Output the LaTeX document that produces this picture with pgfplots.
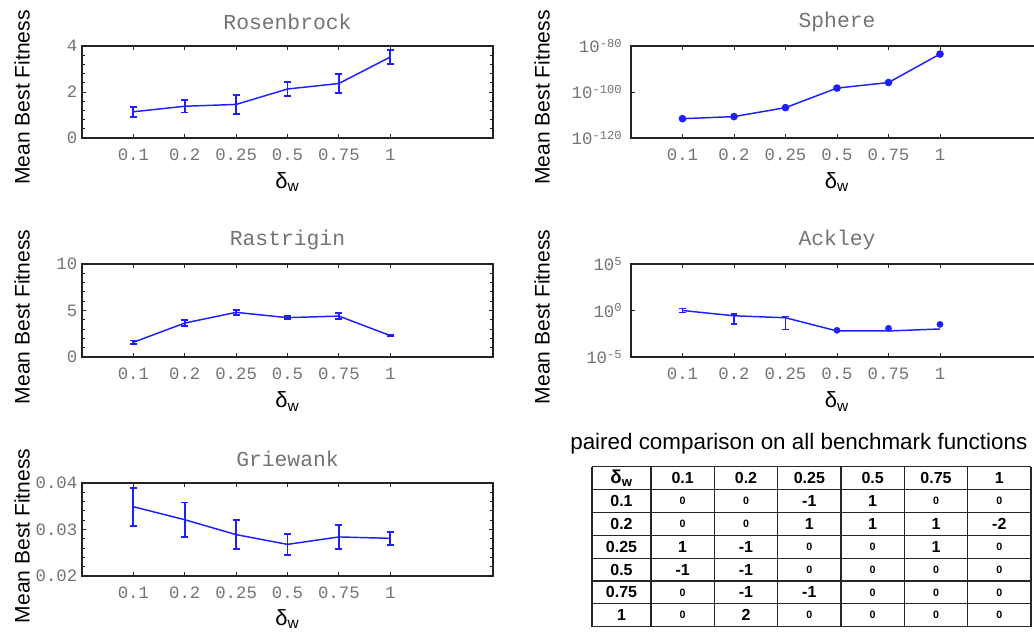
\documentclass[border=0pt]{standalone}
\usepackage{pgfplots}
\usepackage{pgfplotstable}
\pgfplotsset{compat=1.18}
\usepackage{fontspec}
\setmainfont{Liberation Sans}
\setmonofont{Liberation Mono}
\definecolor{myblue}{RGB}{30,30,255}
\definecolor{tickgray}{RGB}{115,115,115}
\definecolor{axgray}{RGB}{35,35,35}

\pgfplotstableread{
x y e
1 1.14 0.22
2 1.38 0.27
3 1.46 0.41
4 2.13 0.30
5 2.37 0.41
6 3.52 0.29
}\rosen
\pgfplotstableread{
x y e
1 1.58 0.20
2 3.65 0.35
3 4.80 0.30
4 4.23 0.18
5 4.40 0.30
6 2.30 0.08
}\rastr
\pgfplotstableread{
x y e
1 0.0349 0.0041
2 0.0321 0.0037
3 0.0289 0.0031
4 0.0268 0.0022
5 0.0284 0.0026
6 0.0281 0.0014
}\griew
\pgfplotstableread{
x y
1 2.5e-112
2 2e-111
3 1.6e-107
4 5e-99
5 1.3e-96
6 3.2e-84
}\sphere
\pgfplotstableread{
x y ep em
1 1.0 0.63 0.39
2 0.27 0.14 0.232
3 0.166 0.064 0.157
}\ackA
\pgfplotstableread{
x y
3 0.166
4 0.0063
5 0.0063
6 0.0103
}\ackB
\pgfplotstableread{
x y
4 0.0074
5 0.0122
6 0.032
}\ackC

\pgfplotsset{
  panel/.style={
    scale only axis,
    xmin=0, xmax=8,
    xtick={1,2,3,4,5,6},
    xticklabels={0.1,0.2,0.25,0.5,0.75,1},
    minor x tick num=0,
    tick align=inside, tick pos=both,
    major tick length=3pt, minor tick length=2pt,
    axis line style={axgray, line width=0.8pt},
    every tick/.style={axgray, line width=0.7pt},
    tick label style={font=\fontsize{13}{13}\selectfont\ttfamily, text=tickgray},
    xticklabel style={yshift=-4.5pt},
    /pgf/number format/assume math mode=true,
    scaled y ticks=false,
    title style={font=\fontsize{16}{16}\selectfont\ttfamily, text=tickgray, at={(axis description cs:0.5,1.17)}, anchor=center},
    xlabel={δ\textsubscript{w}},
    xlabel style={font=\fontsize{16.5}{16.5}\selectfont, at={(axis description cs:0.5,-0.48)}, anchor=center},
    ylabel={Mean Best Fitness},
    ylabel style={font=\fontsize{15.8}{15.8}\selectfont},
  },
  ebar/.style={myblue, line width=1.1pt, mark=none,
    error bars/.cd, y dir=both, y explicit,
    error bar style={line width=1.4pt, myblue},
    error mark options={myblue, line width=1.4pt, mark size=2.6pt, rotate=90}},
}

\begin{document}
\begin{tikzpicture}
\path[use as bounding box] (0,0) rectangle (775.5pt,474pt);

% Rosenbrock
\begin{axis}[panel, at={(61.5pt,370.5pt)}, anchor=south west,
  width=308.25pt, height=69pt, title={Rosenbrock},
  ymin=0, ymax=4, ytick={0,2,4}, minor y tick num=4,
  ylabel style={at={(axis description cs:-0.146,0.44)}, anchor=center}]
\addplot[ebar] table[x=x, y=y, y error=e] {\rosen};
\end{axis}

% Sphere
\begin{axis}[panel, at={(473.25pt,370.5pt)}, anchor=south west,
  width=309pt, height=69pt, title={Sphere},
  ymode=log, log basis y=10, ymin=1e-120, ymax=1e-80,
  ytick={1e-120,1e-100,1e-80},
  yticklabels={10\textsuperscript{-120},10\textsuperscript{-100},10\textsuperscript{-80}},
  minor ytick={}, 
  yticklabel style={xshift=-3pt},
  ylabel style={at={(axis description cs:-0.216,0.44)}, anchor=center}]
\addplot[myblue, line width=1.1pt, mark=*, mark size=2.3pt] table[x=x, y=y] {\sphere};
\end{axis}

% Rastrigin
\begin{axis}[panel, at={(61.5pt,206.25pt)}, anchor=south west,
  width=308.25pt, height=69.75pt, title={Rastrigin},
  ymin=0, ymax=10, ytick={0,5,10}, minor y tick num=4,
  ylabel style={at={(axis description cs:-0.146,0.43)}, anchor=center}]
\addplot[ebar] table[x=x, y=y, y error=e] {\rastr};
\end{axis}

% Ackley
\begin{axis}[panel, at={(473.25pt,206.25pt)}, anchor=south west,
  width=309pt, height=69.75pt, title={Ackley},
  ymode=log, log basis y=10, ymin=1e-5, ymax=1e5,
  ytick={1e-5,1,1e5},
  yticklabels={10\textsuperscript{-5},10\textsuperscript{0},10\textsuperscript{5}},
  minor ytick={},
  yticklabel style={xshift=-3pt},
  ylabel style={at={(axis description cs:-0.216,0.43)}, anchor=center}]
\addplot[ebar] table[x=x, y=y, y error plus=ep, y error minus=em] {\ackA};
\addplot[myblue, line width=1.1pt, mark=none] table[x=x, y=y] {\ackB};
\addplot[myblue, only marks, mark=*, mark size=2.3pt] table[x=x, y=y] {\ackC};
\end{axis}

% Griewank
\begin{axis}[panel, at={(61.5pt,42pt)}, anchor=south west,
  width=308.25pt, height=69.75pt, title={Griewank},
  ymin=0.02, ymax=0.04, ytick={0.02,0.03,0.04}, yticklabels={0.02,0.03,0.04},
  minor y tick num=4,
  ylabel style={at={(axis description cs:-0.146,0.43)}, anchor=center},
  xlabel style={at={(axis description cs:0.5,-0.46)}}]
\addplot[ebar] table[x=x, y=y, y error=e] {\griew};
\end{axis}

% Table
\begin{scope}[x=0.75pt, y=-0.75pt, shift={(0pt,474pt)}]
\node[font=\fontsize{16.8}{16.8}\selectfont, anchor=east] at (1032,444) {paired comparison on all benchmark functions};
\foreach \c in {592,651,714.33,777.67,841,904.33,967.67,1031}
  \draw[line width=0.9pt, black!85] (\c,466.7) -- (\c,626.7);
\foreach \r in {0,...,7}
  \draw[line width=0.9pt, black!85] (592,{466.7+22.857*\r}) -- (1031,{466.7+22.857*\r});
\node[font=\fontsize{14}{14}\selectfont\bfseries] at (621.5,{466.7+22.857*0.5}) {δ\textsubscript{w}};
\foreach [count=\j] \h in {0.1,0.2,0.25,0.5,0.75,1} {
  \node[font=\fontsize{12}{12}\selectfont\bfseries] at ({651+63.333*(\j-0.5)},{466.7+22.857*0.5}) {\h};
  \node[font=\fontsize{12}{12}\selectfont\bfseries] at (621.5,{466.7+22.857*(\j+0.5)}) {\h};
}
\foreach [count=\i] \row in {{0,0,-1,1,0,0},{0,0,1,1,1,-2},{1,-1,0,0,1,0},{-1,-1,0,0,0,0},{0,-1,-1,0,0,0},{0,2,0,0,0,0}} {
  \foreach [count=\j] \v in \row {
    \ifnum\v=0
      \node[font=\fontsize{8}{8}\selectfont\bfseries] at ({651+63.333*(\j-0.5)},{466.7+22.857*(\i+0.5)}) {0};
    \else
      \node[font=\fontsize{12}{12}\selectfont\bfseries] at ({651+63.333*(\j-0.5)},{466.7+22.857*(\i+0.5)}) {\v};
    \fi
  }
}
\end{scope}
\end{tikzpicture}
\end{document}
